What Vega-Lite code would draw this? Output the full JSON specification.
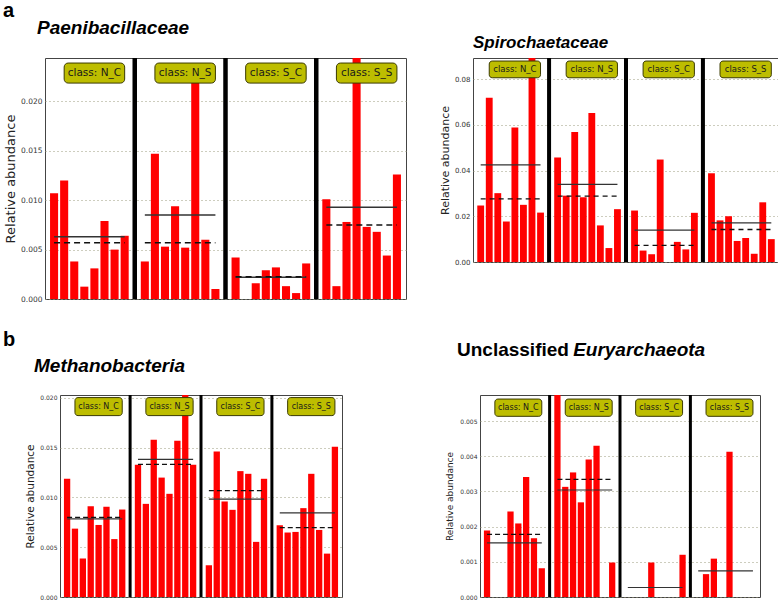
{
"$schema":"https://vega.github.io/schema/vega-lite/v6.json",
"padding":0,
"background":"white",
"columns":1,
"spacing":26,
"config":{
 "view":{"stroke":"#444","strokeWidth":1},
 "axisY":{"domain":false,"ticks":false,"grid":true,"gridColor":"#9b9b7c","gridDash":[1,3],"gridWidth":1,"labelFont":"DejaVu Sans","labelColor":"#333","titleFont":"DejaVu Sans","titleFontWeight":"normal","titleColor":"#222","labelPadding":3},
 "title":{"font":"Liberation Sans","fontWeight":"bold","color":"#000","anchor":"start","subtitleFont":"Liberation Sans","subtitleFontWeight":"bold","subtitleFontStyle":"italic","subtitleColor":"#000"}
},
"datasets":{
 "bars":[
  {"p":"P1","s":"N_C1","v":0.0107},{"p":"P1","s":"N_C2","v":0.0120},{"p":"P1","s":"N_C3","v":0.0038},{"p":"P1","s":"N_C4","v":0.00125},{"p":"P1","s":"N_C5","v":0.0031},{"p":"P1","s":"N_C6","v":0.0079},{"p":"P1","s":"N_C7","v":0.0050},{"p":"P1","s":"N_C8","v":0.0064},
  {"p":"P1","s":"N_S1","v":0.0038},{"p":"P1","s":"N_S2","v":0.0147},{"p":"P1","s":"N_S3","v":0.0053},{"p":"P1","s":"N_S4","v":0.0094},{"p":"P1","s":"N_S5","v":0.0052},{"p":"P1","s":"N_S6","v":0.0228},{"p":"P1","s":"N_S7","v":0.0060},{"p":"P1","s":"N_S8","v":0.0010},
  {"p":"P1","s":"S_C1","v":0.0042},{"p":"P1","s":"S_C2","v":0},{"p":"P1","s":"S_C3","v":0.0016},{"p":"P1","s":"S_C4","v":0.0029},{"p":"P1","s":"S_C5","v":0.0032},{"p":"P1","s":"S_C6","v":0.0013},{"p":"P1","s":"S_C7","v":0.0006},{"p":"P1","s":"S_C8","v":0.0036},
  {"p":"P1","s":"S_S1","v":0.0101},{"p":"P1","s":"S_S2","v":0.0013},{"p":"P1","s":"S_S3","v":0.0078},{"p":"P1","s":"S_S4","v":0.0250},{"p":"P1","s":"S_S5","v":0.0073},{"p":"P1","s":"S_S6","v":0.0068},{"p":"P1","s":"S_S7","v":0.0044},{"p":"P1","s":"S_S8","v":0.0126},
  {"p":"P2","s":"N_C1","v":0.0247},{"p":"P2","s":"N_C2","v":0.0718},{"p":"P2","s":"N_C3","v":0.0301},{"p":"P2","s":"N_C4","v":0.0177},{"p":"P2","s":"N_C5","v":0.0588},{"p":"P2","s":"N_C6","v":0.0250},{"p":"P2","s":"N_C7","v":0.0900},{"p":"P2","s":"N_C8","v":0.0216},
  {"p":"P2","s":"N_S1","v":0.0457},{"p":"P2","s":"N_S2","v":0.0290},{"p":"P2","s":"N_S3","v":0.0568},{"p":"P2","s":"N_S4","v":0.0283},{"p":"P2","s":"N_S5","v":0.0651},{"p":"P2","s":"N_S6","v":0.0160},{"p":"P2","s":"N_S7","v":0.0061},{"p":"P2","s":"N_S8","v":0.0231},
  {"p":"P2","s":"S_C1","v":0.0225},{"p":"P2","s":"S_C2","v":0.0050},{"p":"P2","s":"S_C3","v":0.0034},{"p":"P2","s":"S_C4","v":0.0448},{"p":"P2","s":"S_C5","v":0},{"p":"P2","s":"S_C6","v":0.0088},{"p":"P2","s":"S_C7","v":0.0055},{"p":"P2","s":"S_C8","v":0.0215},
  {"p":"P2","s":"S_S1","v":0.0388},{"p":"P2","s":"S_S2","v":0.0182},{"p":"P2","s":"S_S3","v":0.0200},{"p":"P2","s":"S_S4","v":0.0092},{"p":"P2","s":"S_S5","v":0.0105},{"p":"P2","s":"S_S6","v":0.0036},{"p":"P2","s":"S_S7","v":0.0261},{"p":"P2","s":"S_S8","v":0.0100},
  {"p":"P3","s":"N_C1","v":0.01189},{"p":"P3","s":"N_C2","v":0.00687},{"p":"P3","s":"N_C3","v":0.00387},{"p":"P3","s":"N_C4","v":0.00912},{"p":"P3","s":"N_C5","v":0.00724},{"p":"P3","s":"N_C6","v":0.00906},{"p":"P3","s":"N_C7","v":0.00582},{"p":"P3","s":"N_C8","v":0.00879},
  {"p":"P3","s":"N_S1","v":0.0133},{"p":"P3","s":"N_S2","v":0.00936},{"p":"P3","s":"N_S3","v":0.0158},{"p":"P3","s":"N_S4","v":0.0120},{"p":"P3","s":"N_S5","v":0.01037},{"p":"P3","s":"N_S6","v":0.0157},{"p":"P3","s":"N_S7","v":0.0208},{"p":"P3","s":"N_S8","v":0.0133},
  {"p":"P3","s":"S_C1","v":0.00319},{"p":"P3","s":"S_C2","v":0.01463},{"p":"P3","s":"S_C3","v":0.0096},{"p":"P3","s":"S_C4","v":0.00876},{"p":"P3","s":"S_C5","v":0.01265},{"p":"P3","s":"S_C6","v":0.01238},{"p":"P3","s":"S_C7","v":0.00554},{"p":"P3","s":"S_C8","v":0.01188},
  {"p":"P3","s":"S_S1","v":0.00721},{"p":"P3","s":"S_S2","v":0.00648},{"p":"P3","s":"S_S3","v":0.00654},{"p":"P3","s":"S_S4","v":0.00893},{"p":"P3","s":"S_S5","v":0.01238},{"p":"P3","s":"S_S6","v":0.00674},{"p":"P3","s":"S_S7","v":0.00436},{"p":"P3","s":"S_S8","v":0.0151},
  {"p":"P4","s":"N_C1","v":0.00189},{"p":"P4","s":"N_C2","v":0},{"p":"P4","s":"N_C3","v":0},{"p":"P4","s":"N_C4","v":0.00243},{"p":"P4","s":"N_C5","v":0.00209},{"p":"P4","s":"N_C6","v":0.00341},{"p":"P4","s":"N_C7","v":0.00167},{"p":"P4","s":"N_C8","v":0.00082},
  {"p":"P4","s":"N_S1","v":0.0058},{"p":"P4","s":"N_S2","v":0.00313},{"p":"P4","s":"N_S3","v":0.00354},{"p":"P4","s":"N_S4","v":0.00269},{"p":"P4","s":"N_S5","v":0.00391},{"p":"P4","s":"N_S6","v":0.0043},{"p":"P4","s":"N_S7","v":0},{"p":"P4","s":"N_S8","v":0.00098},
  {"p":"P4","s":"S_C1","v":0},{"p":"P4","s":"S_C2","v":0},{"p":"P4","s":"S_C3","v":0},{"p":"P4","s":"S_C4","v":0.00098},{"p":"P4","s":"S_C5","v":0},{"p":"P4","s":"S_C6","v":0},{"p":"P4","s":"S_C7","v":0},{"p":"P4","s":"S_C8","v":0.0012},
  {"p":"P4","s":"S_S1","v":0},{"p":"P4","s":"S_S2","v":0.00065},{"p":"P4","s":"S_S3","v":0.00109},{"p":"P4","s":"S_S4","v":0},{"p":"P4","s":"S_S5","v":0.00413},{"p":"P4","s":"S_S6","v":0},{"p":"P4","s":"S_S7","v":0},{"p":"P4","s":"S_S8","v":0}
 ],
 "stats":[
  {"p":"P1","first":"N_C1","last":"N_C8","mean":0.0063,"median":0.0057},
  {"p":"P1","first":"N_S1","last":"N_S8","mean":0.0085,"median":0.0057},
  {"p":"P1","first":"S_C1","last":"S_C8","mean":0.0022,"median":0.00225},
  {"p":"P1","first":"S_S1","last":"S_S8","mean":0.0093,"median":0.0075},
  {"p":"P2","first":"N_C1","last":"N_C8","mean":0.0425,"median":0.0276},
  {"p":"P2","first":"N_S1","last":"N_S8","mean":0.0339,"median":0.0288},
  {"p":"P2","first":"S_C1","last":"S_C8","mean":0.0139,"median":0.0073},
  {"p":"P2","first":"S_S1","last":"S_S8","mean":0.0171,"median":0.0142},
  {"p":"P3","first":"N_C1","last":"N_C8","mean":0.00785,"median":0.0080},
  {"p":"P3","first":"N_S1","last":"N_S8","mean":0.01383,"median":0.01332},
  {"p":"P3","first":"S_C1","last":"S_C8","mean":0.00983,"median":0.0107},
  {"p":"P3","first":"S_S1","last":"S_S8","mean":0.00846,"median":0.00698},
  {"p":"P4","first":"N_C1","last":"N_C8","mean":0.00154,"median":0.00178},
  {"p":"P4","first":"N_S1","last":"N_S8","mean":0.00304,"median":0.00334},
  {"p":"P4","first":"S_C1","last":"S_C8","mean":0.00027,"median":null},
  {"p":"P4","first":"S_S1","last":"S_S8","mean":0.00074,"median":null}
 ],
 "labels":[
  {"label":"class: N_C","from":"N_C2","to":"N_C8","mid":"N_C5"},
  {"label":"class: N_S","from":"N_S2","to":"N_S8","mid":"N_S5"},
  {"label":"class: S_C","from":"S_C2","to":"S_C8","mid":"S_C5"},
  {"label":"class: S_S","from":"S_S2","to":"S_S8","mid":"S_S5"}
 ],
 "seps":[{"s":"sep1"},{"s":"sep2"},{"s":"sep3"}],
 "none":[{}]
},
"concat":[
 {"spacing":31,
  "hconcat":[
   {"spacing":-11,
    "hconcat":[
     {"width":1,"height":1,"view":{"stroke":null},
      "title":{"text":"a","fontSize":20,"frame":"group","offset":35},
      "data":{"name":"none"},"mark":{"type":"point","opacity":0},"encoding":{}},
     {"width":361,"height":241,
      "title":{"text":"Paenibacillaceae","fontSize":19,"fontStyle":"italic","frame":"group","dx":-8,"offset":18},
      "layer":[
       {"data":{"name":"bars"},"transform":[{"filter":"datum.p === 'P1'"}],
        "mark":{"type":"bar","color":"#ff0000","clip":true},
        "encoding":{
         "x":{"field":"s","type":"nominal","scale":{"type":"band","domain":["N_C1","N_C2","N_C3","N_C4","N_C5","N_C6","N_C7","N_C8","sep1","N_S1","N_S2","N_S3","N_S4","N_S5","N_S6","N_S7","N_S8","sep2","S_C1","S_C2","S_C3","S_C4","S_C5","S_C6","S_C7","S_C8","sep3","S_S1","S_S2","S_S3","S_S4","S_S5","S_S6","S_S7","S_S8"],"paddingInner":0.2,"paddingOuter":0.5},"axis":null},
         "y":{"field":"v","type":"quantitative","scale":{"domain":[0,0.0244],"nice":false},
              "axis":{"title":"Relative abundance","values":[0,0.005,0.01,0.015,0.02],"format":".3f","labelFontSize":7.5,"titleFontSize":13,"titlePadding":3}}}},
       {"data":{"name":"seps"},"mark":{"type":"rule","color":"#000","strokeWidth":4.5},"encoding":{"x":{"field":"s","type":"nominal"}}},
       {"data":{"name":"stats"},"transform":[{"filter":"datum.p === 'P1'"}],"mark":{"type":"rule","color":"#333","strokeWidth":1.5},
        "encoding":{"x":{"field":"first","type":"nominal"},"x2":{"field":"last"},"y":{"field":"mean","type":"quantitative"}}},
       {"data":{"name":"stats"},"transform":[{"filter":"datum.p === 'P1'"}],"mark":{"type":"rule","color":"#111","strokeWidth":1.5,"strokeDash":[6,4]},
        "encoding":{"x":{"field":"first","type":"nominal"},"x2":{"field":"last"},"y":{"field":"median","type":"quantitative"}}},
       {"data":{"name":"labels"},"mark":{"type":"rect","fill":"#bdbd00","stroke":"#3a3a00","strokeWidth":1,"cornerRadius":4},
        "encoding":{"x":{"field":"from","type":"nominal"},"x2":{"field":"to"},"y":{"datum":0.02389},"y2":{"datum":0.02186}}},
       {"data":{"name":"labels"},"mark":{"type":"text","font":"DejaVu Sans","fontSize":10.5,"color":"#1a1a1a","baseline":"middle"},
        "encoding":{"x":{"field":"mid","type":"nominal"},"y":{"datum":0.02288},"text":{"field":"label"}}}
      ]}
    ]},
   {"width":306,"height":204,
    "title":{"text":"Spirochaetaceae","fontSize":17,"fontStyle":"italic","frame":"group","dx":0,"offset":4},
    "layer":[
     {"data":{"name":"bars"},"transform":[{"filter":"datum.p === 'P2'"}],
      "mark":{"type":"bar","color":"#ff0000","clip":true},
      "encoding":{
       "x":{"field":"s","type":"nominal","scale":{"type":"band","domain":["N_C1","N_C2","N_C3","N_C4","N_C5","N_C6","N_C7","N_C8","sep1","N_S1","N_S2","N_S3","N_S4","N_S5","N_S6","N_S7","N_S8","sep2","S_C1","S_C2","S_C3","S_C4","S_C5","S_C6","S_C7","S_C8","sep3","S_S1","S_S2","S_S3","S_S4","S_S5","S_S6","S_S7","S_S8"],"paddingInner":0.2,"paddingOuter":0.5},"axis":null},
       "y":{"field":"v","type":"quantitative","scale":{"domain":[0,0.0892],"nice":false},
            "axis":{"title":"Relative abundance","values":[0,0.01,0.02,0.03,0.04,0.05,0.06,0.07,0.08],"format":".2f","labelFontSize":7,"titleFontSize":11,"titlePadding":4}}}},
     {"data":{"name":"seps"},"mark":{"type":"rule","color":"#000","strokeWidth":4},"encoding":{"x":{"field":"s","type":"nominal"}}},
     {"data":{"name":"stats"},"transform":[{"filter":"datum.p === 'P2'"}],"mark":{"type":"rule","color":"#333","strokeWidth":1.3},
      "encoding":{"x":{"field":"first","type":"nominal"},"x2":{"field":"last"},"y":{"field":"mean","type":"quantitative"}}},
     {"data":{"name":"stats"},"transform":[{"filter":"datum.p === 'P2'"}],"mark":{"type":"rule","color":"#111","strokeWidth":1.3,"strokeDash":[5,4]},
      "encoding":{"x":{"field":"first","type":"nominal"},"x2":{"field":"last"},"y":{"field":"median","type":"quantitative"}}},
     {"data":{"name":"labels"},"mark":{"type":"rect","fill":"#bdbd00","stroke":"#3a3a00","strokeWidth":1,"cornerRadius":3},
      "encoding":{"x":{"field":"from","type":"nominal"},"x2":{"field":"to"},"y":{"datum":0.08787},"y2":{"datum":0.08056}}},
     {"data":{"name":"labels"},"mark":{"type":"text","font":"DejaVu Sans","fontSize":8.5,"color":"#1a1a1a","baseline":"middle"},
      "encoding":{"x":{"field":"mid","type":"nominal"},"y":{"datum":0.0842},"text":{"field":"label"}}}
    ]}
  ]},
 {"spacing":102,
  "hconcat":[
   {"spacing":9,
    "hconcat":[
     {"width":1,"height":1,"view":{"stroke":null},
      "title":{"text":"b","fontSize":20,"frame":"group","offset":43},
      "data":{"name":"none"},"mark":{"type":"point","opacity":0},"encoding":{}},
     {"width":282,"height":202,
      "title":{"text":"Methanobacteria","fontSize":19,"fontStyle":"italic","frame":"group","dx":-26,"offset":18},
      "layer":[
       {"data":{"name":"bars"},"transform":[{"filter":"datum.p === 'P3'"}],
        "mark":{"type":"bar","color":"#ff0000","clip":true},
        "encoding":{
         "x":{"field":"s","type":"nominal","scale":{"type":"band","domain":["N_C1","N_C2","N_C3","N_C4","N_C5","N_C6","N_C7","N_C8","sep1","N_S1","N_S2","N_S3","N_S4","N_S5","N_S6","N_S7","N_S8","sep2","S_C1","S_C2","S_C3","S_C4","S_C5","S_C6","S_C7","S_C8","sep3","S_S1","S_S2","S_S3","S_S4","S_S5","S_S6","S_S7","S_S8"],"paddingInner":0.2,"paddingOuter":0.5},"axis":null},
         "y":{"field":"v","type":"quantitative","scale":{"domain":[0,0.0203],"nice":false},
              "axis":{"title":"Relative abundance","values":[0,0.005,0.01,0.015,0.02],"format":".3f","labelFontSize":6,"titleFontSize":10.5,"titlePadding":4}}}},
       {"data":{"name":"seps"},"mark":{"type":"rule","color":"#000","strokeWidth":3},"encoding":{"x":{"field":"s","type":"nominal"}}},
       {"data":{"name":"stats"},"transform":[{"filter":"datum.p === 'P3'"}],"mark":{"type":"rule","color":"#333","strokeWidth":1.2},
        "encoding":{"x":{"field":"first","type":"nominal"},"x2":{"field":"last"},"y":{"field":"mean","type":"quantitative"}}},
       {"data":{"name":"stats"},"transform":[{"filter":"datum.p === 'P3'"}],"mark":{"type":"rule","color":"#111","strokeWidth":1.2,"strokeDash":[5,3]},
        "encoding":{"x":{"field":"first","type":"nominal"},"x2":{"field":"last"},"y":{"field":"median","type":"quantitative"}}},
       {"data":{"name":"labels"},"mark":{"type":"rect","fill":"#bdbd00","stroke":"#3a3a00","strokeWidth":1,"cornerRadius":3},
        "encoding":{"x":{"field":"from","type":"nominal"},"x2":{"field":"to"},"y":{"datum":0.02004},"y2":{"datum":0.01823}}},
       {"data":{"name":"labels"},"mark":{"type":"text","font":"DejaVu Sans","fontSize":8,"color":"#1a1a1a","baseline":"middle"},
        "encoding":{"x":{"field":"mid","type":"nominal"},"y":{"datum":0.01913},"text":{"field":"label"}}}
      ]}
    ]},
   {"width":280,"height":202,
    "title":{"text":"Unclassified","subtitle":"\u200b\u00a0\u00a0\u00a0\u00a0\u00a0\u00a0\u00a0\u00a0\u00a0\u00a0\u00a0\u00a0\u00a0\u00a0\u00a0\u00a0\u00a0\u00a0\u00a0\u00a0\u00a0\u00a0Euryarchaeota","fontSize":19,"subtitleFontSize":19,"subtitlePadding":-19,"frame":"group","dx":-23,"offset":34},
    "layer":[
     {"data":{"name":"bars"},"transform":[{"filter":"datum.p === 'P4'"}],
      "mark":{"type":"bar","color":"#ff0000","clip":true},
      "encoding":{
       "x":{"field":"s","type":"nominal","scale":{"type":"band","domain":["N_C1","N_C2","N_C3","N_C4","N_C5","N_C6","N_C7","N_C8","sep1","N_S1","N_S2","N_S3","N_S4","N_S5","N_S6","N_S7","N_S8","sep2","S_C1","S_C2","S_C3","S_C4","S_C5","S_C6","S_C7","S_C8","sep3","S_S1","S_S2","S_S3","S_S4","S_S5","S_S6","S_S7","S_S8"],"paddingInner":0.2,"paddingOuter":0.5},"axis":null},
       "y":{"field":"v","type":"quantitative","scale":{"domain":[0,0.00574],"nice":false},
            "axis":{"title":"Relative abundance","values":[0,0.001,0.002,0.003,0.004,0.005],"format":".3f","labelFontSize":6,"titleFontSize":9,"titlePadding":5}}}},
     {"data":{"name":"seps"},"mark":{"type":"rule","color":"#000","strokeWidth":3},"encoding":{"x":{"field":"s","type":"nominal"}}},
     {"data":{"name":"stats"},"transform":[{"filter":"datum.p === 'P4'"}],"mark":{"type":"rule","color":"#333","strokeWidth":1.2},
      "encoding":{"x":{"field":"first","type":"nominal"},"x2":{"field":"last"},"y":{"field":"mean","type":"quantitative"}}},
     {"data":{"name":"stats"},"transform":[{"filter":"datum.p === 'P4'"}],"mark":{"type":"rule","color":"#111","strokeWidth":1.2,"strokeDash":[5,3]},
      "encoding":{"x":{"field":"first","type":"nominal"},"x2":{"field":"last"},"y":{"field":"median","type":"quantitative"}}},
     {"data":{"name":"labels"},"mark":{"type":"rect","fill":"#bdbd00","stroke":"#3a3a00","strokeWidth":1,"cornerRadius":3},
      "encoding":{"x":{"field":"from","type":"nominal"},"x2":{"field":"to"},"y":{"datum":0.005625},"y2":{"datum":0.005134}}},
     {"data":{"name":"labels"},"mark":{"type":"text","font":"DejaVu Sans","fontSize":8,"color":"#1a1a1a","baseline":"middle"},
      "encoding":{"x":{"field":"mid","type":"nominal"},"y":{"datum":0.00538},"text":{"field":"label"}}}
    ]}
  ]}
]
}
